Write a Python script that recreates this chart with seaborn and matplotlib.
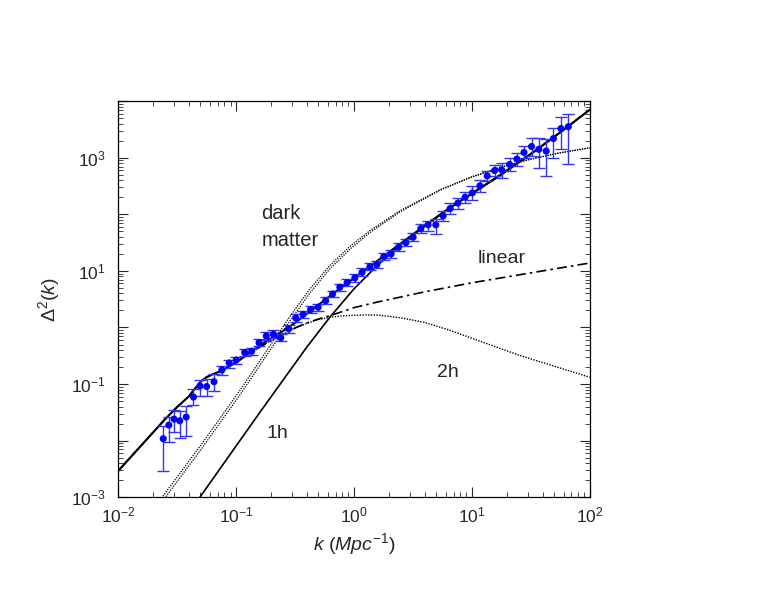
import numpy as np
import matplotlib
matplotlib.use('Agg')
import matplotlib.pyplot as plt
import matplotlib.ticker as mticker
import seaborn as sns


# measured power spectrum points (k in 1/Mpc), with error bar limits
k_data = [0.0242, 0.0270, 0.0299, 0.0334, 0.0379, 0.0437, 0.0496, 0.0565, 0.0652, 0.0760,
          0.0877, 0.1007, 0.1186, 0.136, 0.157, 0.181, 0.208, 0.240, 0.280, 0.322,
          0.371, 0.430, 0.498, 0.577, 0.661, 0.760, 0.877, 1.019, 1.175, 1.367,
          1.567, 1.795, 2.07, 2.40, 2.76, 3.18, 3.70, 4.26, 4.95, 5.71,
          6.55, 7.61, 8.77, 10.1, 11.7, 13.5, 15.6, 17.9, 20.9, 24.1,
          27.7, 32.1, 37.0, 42.7, 49.2, 57.0, 65.8]
d2_data = [0.0108, 0.0188, 0.0240, 0.0224, 0.0261, 0.0589, 0.0923, 0.0904, 0.110, 0.177,
           0.236, 0.266, 0.361, 0.379, 0.538, 0.708, 0.760, 0.658, 0.948, 1.47,
           1.70, 2.07, 2.28, 2.97, 3.92, 5.15, 6.21, 7.52, 9.48, 11.9,
           12.9, 17.9, 20.0, 26.3, 31.7, 39.5, 56.1, 65.2, 65.2, 94.0,
           127, 158, 201, 240, 319, 480, 596, 613, 761, 948,
           1241, 1585, 1413, 1315, 2188, 3289, 3540]
d2_hi = [0.0183, 0.0261, 0.0347, 0.0333, 0.0408, 0.0817, 0.118, 0.122, 0.150, 0.208,
         0.266, 0.301, 0.416, 0.434, 0.625, 0.832, 0.904, 0.767, 1.107, 1.73,
         1.96, 2.40, 2.61, 3.47, 4.43, 5.89, 7.21, 8.85, 11.3, 13.9,
         15.0, 20.8, 23.5, 31.3, 36.8, 47.1, 67.9, 76.7, 83.2, 115,
         160, 196, 250, 319, 408, 589, 752, 816, 1000, 1226,
         1631, 2259, 2259, 2168, 3396, 5321, 6012]
d2_lo = [0.00288, 0.0094, 0.0141, 0.0111, 0.0120, 0.0425, 0.0614, 0.0614, 0.0752, 0.144,
         0.192, 0.226, 0.313, 0.326, 0.471, 0.601, 0.652, 0.577, 0.800, 1.25,
         1.47, 1.81, 1.96, 2.61, 3.47, 4.43, 5.43, 6.38, 8.16, 10.4,
         11.3, 15.7, 17.0, 22.6, 27.7, 34.0, 47.1, 51.0, 45.2, 76.7,
         102, 125, 160, 181, 250, 392, 480, 443, 589, 722,
         1000, 1084, 665, 480, 1000, 1443, 783]

# model curves as log10(k), log10(Delta^2)
logk_total = [-2.0, -1.9, -1.8, -1.7, -1.6, -1.5, -1.4, -1.35, -1.3, -1.25, -1.2, -1.15, -1.1,
              -1.0, -0.9, -0.8, -0.7, -0.6, -0.5, -0.4, -0.3, -0.2, -0.1, 0.0,
              0.2, 0.4, 0.6, 0.8, 1.0, 1.25, 1.5, 1.75, 2.0]
logd_total = [-2.54, -2.31, -2.08, -1.85, -1.62, -1.41, -1.22, -1.09, -0.96, -0.88, -0.83, -0.79, -0.74,
              -0.62, -0.47, -0.32, -0.19, -0.06, 0.08, 0.24, 0.40, 0.56, 0.72, 0.87,
              1.18, 1.49, 1.80, 2.10, 2.37, 2.71, 3.07, 3.45, 3.85]

logk_lin = [-2.0, -1.9, -1.8, -1.7, -1.6, -1.5, -1.4, -1.35, -1.3, -1.25, -1.2, -1.15, -1.1,
            -1.0, -0.9, -0.8, -0.7, -0.6, -0.5, -0.4, -0.3, -0.2, -0.1, 0.0,
            0.1, 0.2, 0.4, 0.6, 0.8, 1.0, 1.2, 1.4, 1.6, 1.8, 2.0]
logd_lin = [-2.54, -2.31, -2.08, -1.85, -1.62, -1.41, -1.22, -1.09, -0.96, -0.88, -0.83, -0.79, -0.74,
            -0.62, -0.48, -0.35, -0.23, -0.12, -0.01, 0.08, 0.15, 0.21, 0.28, 0.35,
            0.40, 0.45, 0.54, 0.63, 0.71, 0.79, 0.86, 0.93, 1.00, 1.07, 1.14]
logd_2h = [-2.54, -2.31, -2.08, -1.85, -1.62, -1.41, -1.22, -1.09, -0.96, -0.88, -0.83, -0.79, -0.74,
           -0.62, -0.48, -0.35, -0.23, -0.12, -0.01, 0.07, 0.14, 0.18, 0.205, 0.215,
           0.222, 0.22, 0.17, 0.09, -0.04, -0.19, -0.34, -0.49, -0.62, -0.75, -0.88]

logk_1h = [-1.4, -1.2, -1.0, -0.8, -0.6, -0.4, -0.2, 0.0, 0.2, 0.4, 0.6, 0.8, 1.0, 1.25, 1.5, 1.75, 2.0]
logd_1h = [-3.28, -2.69, -2.10, -1.51, -0.93, -0.35, 0.19, 0.68, 1.10, 1.47, 1.79, 2.09, 2.36, 2.70, 3.06, 3.45, 3.85]

# dark matter curve is drawn as a pair of close dotted lines
logk_dm = [-1.644, -1.305, -0.966, -0.712, -0.542, -0.373, -0.203, -0.034, 0.136, 0.390,
           0.729, 0.983, 1.237, 1.492, 1.746, 2.0]
logd_dm_a = [-3.053, -2.103, -1.112, -0.327, 0.195, 0.681, 1.097, 1.434, 1.712, 2.062,
             2.434, 2.651, 2.830, 2.973, 3.087, 3.177]
logd_dm_b = [-3.133, -2.183, -1.192, -0.407, 0.115, 0.611, 1.037, 1.384, 1.677, 2.042,
             2.425, 2.647, 2.828, 2.972, 3.087, 3.177]


sns.set_style('ticks')
plt.rcParams['font.family'] = ['Liberation Sans', 'DejaVu Sans']
plt.rcParams['mathtext.fontset'] = 'custom'
plt.rcParams['mathtext.rm'] = 'Liberation Sans'
plt.rcParams['mathtext.it'] = 'Liberation Sans:italic'
plt.rcParams['mathtext.bf'] = 'Liberation Sans:bold'

fig = plt.figure(figsize=(7.76, 5.99), dpi=100)
ax = fig.add_axes([0.152, 0.170, 0.608, 0.661])
ax.set_xscale('log')
ax.set_yscale('log')


def curve(logk, logd, **kw):
    sns.lineplot(x=np.power(10.0, logk), y=np.power(10.0, logd), ax=ax,
                 sort=False, estimator=None, color='black', **kw)


dot = (0, (1, 1))
curve(logk_dm, logd_dm_a, lw=0.9, linestyle=dot)
curve(logk_dm, logd_dm_b, lw=0.9, linestyle=dot)
curve(logk_lin, logd_2h, lw=1.0, linestyle=dot)
curve(logk_lin, logd_lin, lw=1.2, linestyle=(0, (6, 2.5, 1.5, 2.5)))
curve(logk_1h, logd_1h, lw=1.2)
curve(logk_total, logd_total, lw=1.5)

k = np.array(k_data)
d = np.array(d2_data)
yerr = [d - np.array(d2_lo), np.array(d2_hi) - d]
ax.errorbar(k, d, yerr=yerr, fmt='none', ecolor='#3434f2', elinewidth=1.0,
            capsize=4.5, capthick=1.0, zorder=4)
sns.scatterplot(x=k, y=d, ax=ax, color='#0000ff', s=26, edgecolor='none', zorder=5)

ax.set_xlim(1e-2, 1e2)
ax.set_ylim(1e-3, 1e4)

ax.xaxis.set_major_locator(mticker.LogLocator(base=10, numticks=10))
ax.xaxis.set_minor_locator(mticker.LogLocator(base=10, subs=np.arange(2, 10), numticks=20))
ax.xaxis.set_minor_formatter(mticker.NullFormatter())
ax.xaxis.set_major_formatter(mticker.FuncFormatter(
    lambda v, pos: r'$10^{%d}$' % round(np.log10(v))))

ax.yaxis.set_major_locator(mticker.FixedLocator([10.0 ** e for e in range(-3, 5)]))
ax.yaxis.set_minor_locator(mticker.LogLocator(base=10, subs=np.arange(2, 10), numticks=20))
ax.yaxis.set_minor_formatter(mticker.NullFormatter())
ax.yaxis.set_major_formatter(mticker.FuncFormatter(
    lambda v, pos: r'$10^{%d}$' % round(np.log10(v)) if round(np.log10(v)) % 2 else ''))

ax.tick_params(which='both', direction='in', top=True, right=True)
ax.tick_params(which='major', length=7, width=0.8, labelsize=12.5)
ax.tick_params(axis='x', which='major', pad=6)
ax.tick_params(axis='y', which='major', pad=9)
ax.tick_params(which='minor', length=3.5, width=0.6)
for s in ax.spines.values():
    s.set_linewidth(0.9)
    s.set_color('black')

ax.set_xlabel(r'$\mathit{k\ (Mpc^{-1})}$', fontsize=14, labelpad=4)
ax.set_ylabel(r'$\Delta^{2}(k)$', fontsize=14, labelpad=6)

ax.text(0.165, 83.2, 'dark', fontsize=14.5)
ax.text(0.165, 27.7, 'matter', fontsize=14.5)
ax.text(11.25, 13.9, 'linear', fontsize=14)
ax.text(5.02, 0.1346, '2h', fontsize=14)
ax.text(0.182, 0.01094, '1h', fontsize=14)

fig.savefig('out.png', dpi=100)
